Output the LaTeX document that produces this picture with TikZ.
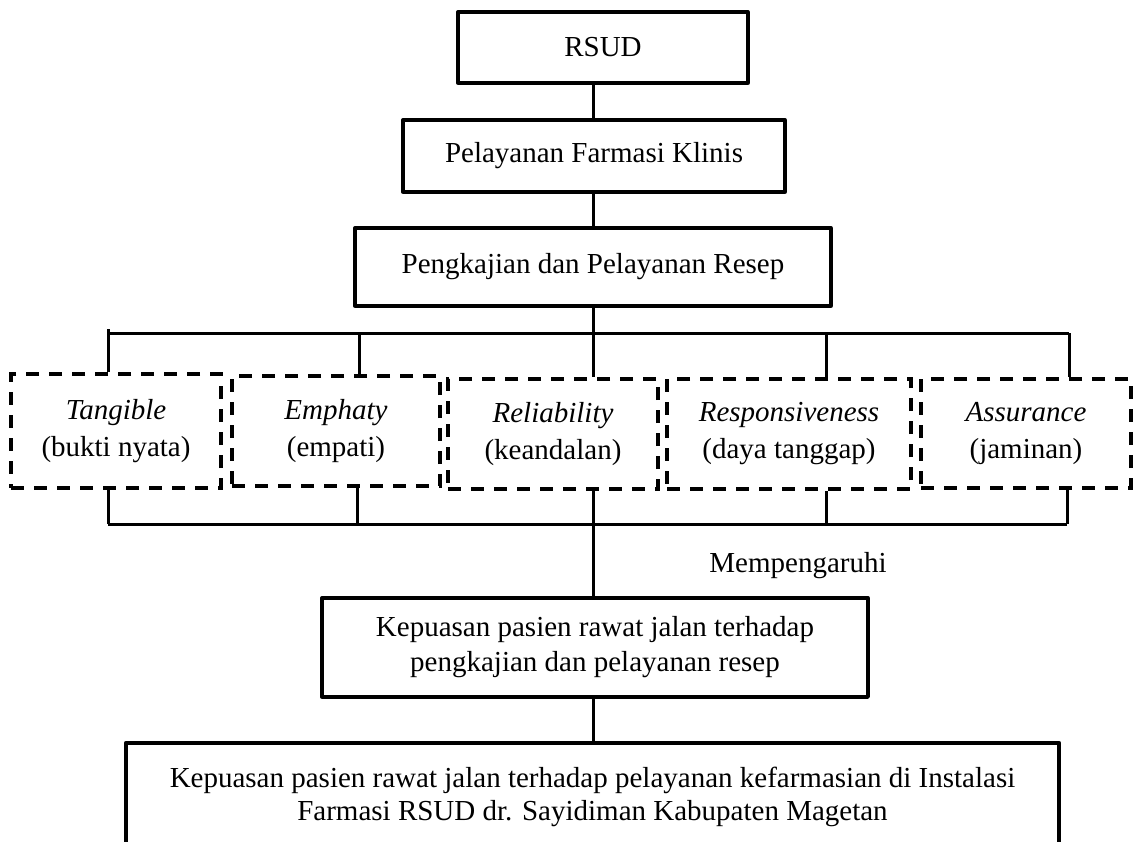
\documentclass[tikz,border=0pt]{standalone}
\usepackage{fontspec}
\setmainfont{Liberation Serif}
\usepackage{tikz}
\usetikzlibrary{positioning,calc}
\tikzset{
  kotak/.style={draw, line width=3.3pt, line join=round, font=\fontsize{29}{35}\selectfont, inner sep=2pt, align=center},
  dim/.style={draw, line width=3.5pt, dash pattern=on 13pt off 10pt, font=\fontsize{29}{37}\selectfont, inner sep=2pt, align=center},
  hasil/.style={draw, line width=4.7pt, line join=round, font=\fontsize{29}{33}\selectfont, inner sep=2pt, align=center},
  ln/.style={line width=3pt, black},
}

\begin{document}
\begin{tikzpicture}[x=1pt, y=-1pt]
\useasboundingbox (0,0) rectangle (1139,841);
% kotak atas
\node[kotak, minimum width=290, minimum height=71] (rs) at (603,47.5) {RSUD};
\node[kotak, minimum width=382, minimum height=72] (pfk) at (594,156) {Pelayanan Farmasi Klinis};
\node[kotak, minimum width=476, minimum height=78] (pr) at (593,267) {Pengkajian dan Pelayanan Resep};
% dimensi mutu pelayanan
\node[dim, minimum width=210, minimum height=114] (tg) at (116,431) {\textit{Tangible}\\(bukti nyata)};
\node[dim, minimum width=208, minimum height=110] (em) at (336,431) {\textit{Emphaty}\\(empati)};
\node[dim, minimum width=210, minimum height=110] (rl) at (553,434) {\textit{Reliability}\\(keandalan)};
\node[dim, minimum width=244, minimum height=110] (rp) at (789,434) {\textit{Responsiveness}\\(daya tanggap)};
\node[dim, minimum width=210, minimum height=109] (asu) at (1026,433.5) {\textit{Assurance}\\(jaminan)};
% kepuasan
\node[kotak, minimum width=546, minimum height=99] (kp) at (595,647.5) {Kepuasan pasien rawat jalan terhadap\\pengkajian dan pelayanan resep};
\node[hasil, minimum width=933, minimum height=107] (kf) at (592.5,796.5) {Kepuasan pasien rawat jalan terhadap pelayanan kefarmasian di Instalasi\\Farmasi RSUD dr. Sayidiman Kabupaten Magetan};
\node[font=\fontsize{29}{35}\selectfont] (mp) at (798,566) {Mempengaruhi};
% garis penghubung
\coordinate (b1) at (593,333);
\coordinate (b2) at (593,524);
\draw[ln] (pfk.north -| b1) -- (b1 |- rs.south);
\draw[ln] (pr.north -| b1) -- (b1 |- pfk.south);
\draw[ln] (pr.south -| b1) -- (b1);
\draw[ln] (108,329) -- (108,333) -- (1069,333);
\draw[ln] (108,524) -- (1067,524);
\foreach \n/\xa/\xb in {tg/108/108, em/359/357, rl/593/593, rp/826/826, asu/1069/1067}{
  \draw[ln] (\xa,333) -- (\xa,333 |- \n.north);
  \draw[ln] (\xb,524) -- (\xb,524 |- \n.south);
}
\draw[ln] (b2) -- (b2 |- kp.north);
\draw[ln] (kp.south -| b2) -- (b2 |- kf.north);
\end{tikzpicture}
\end{document}
